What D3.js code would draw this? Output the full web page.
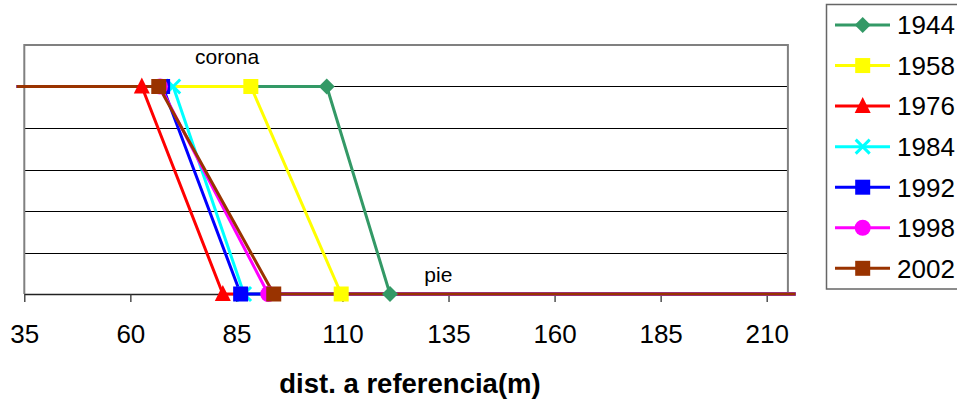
<!DOCTYPE html>
<html><head><meta charset="utf-8">
<script src="https://cdn.jsdelivr.net/npm/d3@7"></script>
<style>body{margin:0;background:#fff;}svg{display:block;font-family:"Liberation Sans",Arial,sans-serif;}</style>
</head><body>
<svg id="c" width="957" height="400"></svg>
<script>
const seriesNames = ["1944","1958","1976","1984","1992","1998","2002"];
const seriesColors = ["#339966","#FFFF00","#FF0000","#00FFFF","#0000FF","#FF00FF","#993300"];
const seriesMarkers = ["diamond","square","triangle","cross","square","circle","square"];
const coronaX = [106.3, 88.4, 62.7, 70.1, 67.6, 67.0, 66.7];
const pieX    = [121.2, 109.7, 81.8, 86.8, 86.0, 92.5, 93.8];
const levelY = [5, 0];            // corona, pie
const endX = [33.2, 216.8];       // line ends beyond the axis
const xTicks = [35,60,85,110,135,160,185,210];
const yGrid = [1,2,3,4,5];
const annotations = [{t:"corona", x:82.8, y:5.54},{t:"pie", x:132.6, y:0.29}];
const xTitle = "dist. a referencia(m)";

const svg = d3.select("#c");
const x = d3.scaleLinear().domain([35,215]).range([24.3,787.9]);
const y = d3.scaleLinear().domain([0,6]).range([294,45]);

// gridlines
svg.append("g").selectAll("line").data(yGrid).join("line")
  .attr("x1",x(35)).attr("x2",x(215)).attr("y1",d=>Math.round(y(d))+0.5).attr("y2",d=>Math.round(y(d))+0.5)
  .attr("stroke","#000").attr("stroke-width",1);
// plot border (top,left,right) gray
svg.append("path").attr("d",`M${x(35)},${y(0)}V${y(6)}H${x(215)}V${y(0)}`)
  .attr("fill","none").attr("stroke","#808080").attr("stroke-width",2);

// x axis
const ax = svg.append("g").attr("transform",`translate(0,${y(0)})`)
  .call(d3.axisBottom(x).tickValues(xTicks).tickSize(8).tickPadding(23).tickSizeOuter(0));
ax.select(".domain").attr("stroke","#222").attr("stroke-width",1.5);
ax.selectAll(".tick line").attr("stroke","#333").attr("stroke-width",1.3);
ax.selectAll(".tick text").attr("font-size",26).attr("font-family","Liberation Sans, Arial, sans-serif").attr("fill","#000");

svg.append("text").attr("x",410).attr("y",393).attr("text-anchor","middle")
  .attr("font-size",27.5).attr("font-weight","bold").text(xTitle);

// annotations
svg.append("g").selectAll("text").data(annotations).join("text")
  .attr("x",d=>x(d.x)).attr("y",d=>y(d.y)).attr("text-anchor","middle").attr("font-size",21).text(d=>d.t);

// series lines
const line = d3.line().x(d=>x(d[0])).y(d=>y(d[1]));
const data = seriesNames.map((n,i)=>({name:n,color:seriesColors[i],marker:seriesMarkers[i],
  pts:[[endX[0],levelY[0]],[coronaX[i],levelY[0]],[pieX[i],levelY[1]],[endX[1],levelY[1]]]}));
svg.append("g").selectAll("path").data(data).join("path")
  .attr("d",d=>line(d.pts)).attr("fill","none").attr("stroke",d=>d.color).attr("stroke-width",3)
  .attr("stroke-linejoin","round");

function drawMarker(g, type, cx, cy, color){
  const s=15;
  if(type==="square") g.append("rect").attr("x",cx-s/2).attr("y",cy-s/2).attr("width",s).attr("height",s).attr("fill",color);
  else if(type==="diamond") g.append("path").attr("d",`M${cx},${cy-8}L${cx+8},${cy}L${cx},${cy+8}L${cx-8},${cy}Z`).attr("fill",color);
  else if(type==="triangle") g.append("path").attr("d",`M${cx},${cy-9}L${cx+8},${cy+7}L${cx-8},${cy+7}Z`).attr("fill",color);
  else if(type==="circle") g.append("circle").attr("cx",cx).attr("cy",cy).attr("r",8).attr("fill",color);
  else if(type==="cross") g.append("path").attr("d",`M${cx-7},${cy-7}L${cx+7},${cy+7}M${cx-7},${cy+7}L${cx+7},${cy-7}`).attr("stroke",color).attr("stroke-width",3);
}
const mg = svg.append("g");
data.forEach(d=>{
  [d.pts[1],d.pts[2]].forEach(p=>drawMarker(mg,d.marker,x(p[0]),y(p[1]),d.color));
});

// legend
const lg = svg.append("g");
lg.append("rect").attr("x",826.5).attr("y",4.5).attr("width",140).attr("height",284.5)
  .attr("fill","#fff").attr("stroke","#666").attr("stroke-width",1.5);
data.forEach((d,i)=>{
  const ly = 25 + i*40.55;
  lg.append("line").attr("x1",835).attr("x2",890).attr("y1",ly).attr("y2",ly).attr("stroke",d.color).attr("stroke-width",3);
  drawMarker(lg,d.marker,862.7,ly,d.color);
  lg.append("text").attr("x",897).attr("y",ly+9.3).attr("font-size",26).text(d.name);
});
</script>
</body></html>
